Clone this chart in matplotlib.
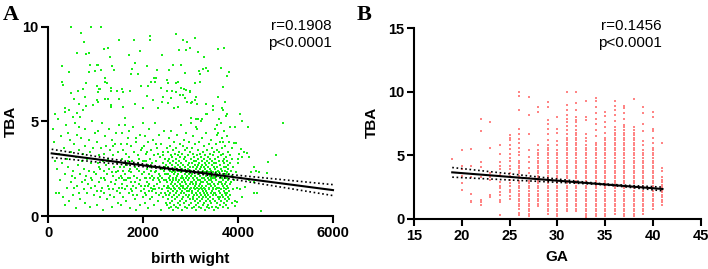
import matplotlib
matplotlib.use('Agg')
import matplotlib.pyplot as plt
import numpy as np

plt.rcParams['font.family'] = ['Liberation Sans', 'DejaVu Sans']

# ---------------- Panel A data: birth weight vs TBA ----------------
# sparse upper points (x, y)
pts_upper = [(481,10.0),(903,10.0),(1100,10.0),(692,9.65),(742,9.17),(2140,9.5),(2140,9.3),(1480,9.3),(1796,9.3),(2688,9.6),(2843,9.3),(2927,9.2),
 (607,8.6),(784,8.55),(848,8.63),(1164,8.8),(1255,8.9),(1297,8.4),(1691,8.5),(1923,8.7),(2400,8.5),(2746,8.77),(2906,8.77),(2990,8.9),
 (291,7.9),(432,7.6),(868,7.98),(1023,7.98),(1044,7.98),(860,7.6),(974,7.66),(1100,7.71),(1198,7.27),(1345,7.9),(1374,7.7),(1767,7.75),(1830,8.1),(1746,7.5),(1887,7.5),(2083,7.9),(2281,7.7),(2224,7.27),(2167,7.1),(2534,7.7),(2632,7.98),(2788,8.0),(2878,7.57),
 (285,7.1),(306,6.9),(468,6.5),(622,6.6),(727,6.7),(784,7.0),(1023,6.88),(1058,6.7),(1092,6.7),(1044,6.57),(1198,7.1),(1227,7.0),(1318,6.78),(1325,6.6),(1444,6.6),(1556,6.7),(1577,6.57),(1712,6.6),(1957,6.88),(2098,6.88),(2240,7.1),(2267,7.28),(2499,6.6),(2379,6.78),(2505,7.2),(2520,7.0),(2695,7.0),(2731,7.06),(2604,6.6),(2695,6.57),(2800,6.78),(2857,6.7),(2906,6.65),(2990,6.57),
 (544,6.18),(637,5.9),(764,6.27),(797,5.83),(938,5.86),(1023,6.13),(1044,6.0),(1198,6.18),(1255,6.18),(1311,5.86),(1325,5.74),(1480,6.18),(1571,5.74),(1830,5.9),(1993,5.69),(2083,6.34),(2203,6.13),(2309,5.69),(2393,6.04),(2414,6.27),(2520,5.95),(2590,6.22),(2646,5.69),(2731,5.77),(2766,6.39),(2836,6.39),(2872,6.22),(2927,6.04),(3011,5.95),
 (130,5.39),(342,5.69),(342,5.51),(432,5.6),(516,5.25),(607,5.42),(658,5.25),(727,5.6),
 (3093,9.39),(3146,8.68),(3286,8.38),(3568,8.8),(3708,8.9),(3174,7.68),(3251,7.75),(3315,7.8),(3370,7.68),(3638,7.8),(3807,7.6),(3772,7.4),
 (3195,7.5),(3083,7.0),(3195,7.1),(3687,6.8),(2984,6.62),(3110,6.27),(3089,6.13),(3020,6.0),(3125,5.9),(3315,5.9),(3568,6.3),
 (3476,5.8),(3476,5.6),(3652,5.69),(3687,5.6),(3722,6.0),(3758,5.39),(3326,5.39),(3350,5.39),(3110,5.1),(3160,5.1),(3230,5.1)]

# right tail (x > 3900)
pts_right = [(4939,4.9),(4798,3.22),(4636,2.87),(4615,2.29),(4481,0.28),(4192,3.31),(4234,3.1),(4055,3.52),(3911,3.87),(3953,3.84),
 (4023,3.3),(4074,3.1),(3990,3.0),(4122,3.4),(4270,2.3),(4339,2.6),(4375,2.4),(4445,2.3),(4220,1.9),(4339,1.8),
 (4330,1.2),(4400,1.2),(4150,1.55),(4040,1.4),(4074,1.0),(3940,0.55),(3975,0.72),(4090,5.0),(3940,4.7),(4215,4.7),(4040,5.4)]

# lower region, x < 2500
pts_low = [(90,4.6),(120,3.9),(150,1.2),(180,2.5),(210,5.1),(230,3.3),(250,1.9),(270,4.2),(290,2.8),(310,1.0),(320,3.6),(340,2.2),(360,4.8),(380,1.5),(400,3.0),(420,2.6),(440,0.8),(450,4.0),(470,1.8),(480,3.4),(490,2.1),(230,1.2),(130,2.9),(350,0.6),(410,4.4),
 (510,2.4),(520,1.1),(530,3.8),(550,4.9),(560,2.0),(570,0.4),(580,3.1),(600,1.6),(610,4.3),(620,2.7),(640,1.2),(650,3.5),(660,2.2),(670,0.9),(690,4.1),(700,1.8),(710,2.9),(720,3.3),(740,1.4),(750,2.5),(760,4.6),(770,0.7),(780,3.7),(800,2.1),(810,1.2),(820,3.0),(840,1.7),(850,4.0),(860,2.4),(870,0.5),(880,3.4),(890,1.5),(900,2.8),(910,5.0),(920,1.9),(940,3.6),(950,1.1),(960,2.3),(980,4.4),(990,1.6),(530,1.5),(760,1.9),(890,2.0),(650,4.7),
 (1005,2.2),(1015,3.9),(1020,1.3),(1030,0.6),(1040,2.8),(1050,4.5),(1060,1.8),(1070,3.2),(1080,2.5),(1090,1.0),(1100,3.6),(1110,2.0),(1120,4.9),(1130,1.5),(1140,2.9),(1150,0.3),(1160,3.3),(1170,2.4),(1180,1.2),(1190,4.2),(1200,1.9),(1210,2.7),(1220,3.7),(1230,0.9),(1240,2.2),(1250,1.6),(1260,3.0),(1270,4.6),(1280,2.5),(1290,1.1),(1300,3.5),(1310,1.8),(1320,2.9),(1330,0.5),(1340,4.0),(1350,2.1),(1360,1.4),(1370,3.2),(1380,2.6),(1390,1.0),(1400,3.8),(1410,1.7),(1420,2.3),(1430,4.4),(1440,1.3),(1450,2.8),(1460,0.7),(1470,3.4),(1480,2.0),(1490,1.5),(1060,2.6),(1180,2.0),(1270,1.4),(1350,3.7),(1420,1.9),(1110,1.3),(1230,2.9),(1330,2.3),(1460,2.4),(1495,4.8),
 (1505,2.6),(1510,1.2),(1520,3.8),(1525,0.6),(1530,2.1),(1540,4.4),(1550,1.7),(1560,3.0),(1565,2.4),(1570,1.0),(1580,3.5),(1590,1.9),(1600,2.8),(1605,5.2),(1610,1.4),(1620,2.2),(1630,3.3),(1640,0.8),(1650,2.7),(1660,1.6),(1670,4.1),(1680,2.0),(1690,1.2),(1700,3.1),(1710,2.5),(1720,0.4),(1730,1.8),(1740,3.7),(1750,2.3),(1760,1.3),(1770,2.9),(1780,4.7),(1790,1.6),(1800,2.1),(1810,3.4),(1820,0.9),(1830,2.6),(1840,1.5),(1850,3.9),(1860,2.0),(1870,1.1),(1880,2.8),(1890,3.2),(1900,1.7),(1910,2.4),(1920,0.6),(1930,4.3),(1940,1.9),(1950,2.7),(1960,1.3),(1970,3.6),(1980,2.2),(1990,1.0),(1545,1.5),(1585,2.6),(1635,1.9),(1675,2.9),(1725,2.0),(1775,1.1),(1815,1.8),(1865,2.5),(1915,3.0),(1955,1.6),(1995,2.9),(1615,4.8),(1705,4.5),(1835,4.1),(1985,4.9),(1560,2.0),(1655,3.8),(1745,1.4),(1855,0.3),(1945,3.5),(1690,2.4),
 (2005,2.3),(2010,1.4),(2020,3.7),(2025,0.7),(2030,2.0),(2040,4.2),(2045,1.6),(2050,2.9),(2060,1.1),(2065,3.3),(2070,2.5),(2080,1.8),(2090,0.4),(2095,2.7),(2100,3.9),(2110,1.3),(2120,2.2),(2125,4.6),(2130,1.7),(2140,3.0),(2150,0.9),(2155,2.4),(2160,1.5),(2170,3.5),(2180,2.1),(2185,1.0),(2190,2.8),(2200,4.0),(2210,1.9),(2215,0.6),(2220,2.6),(2230,3.2),(2240,1.4),(2250,2.3),(2255,4.9),(2260,1.2),(2270,2.9),(2280,1.7),(2290,3.6),(2300,0.8),(2305,2.0),(2310,2.6),(2320,1.5),(2330,4.3),(2335,2.2),(2340,1.1),(2350,3.1),(2360,1.8),(2370,2.5),(2375,0.3),(2380,3.8),(2390,1.4),(2400,2.0),(2410,2.8),(2415,1.0),(2420,3.4),(2430,1.6),(2440,2.4),(2445,4.5),(2450,1.2),(2460,3.0),(2470,1.9),(2475,0.7),(2480,2.7),(2490,3.6),(2495,1.5),(2015,2.9),(2055,2.0),(2105,1.6),(2145,2.0),(2195,1.4),(2235,2.0),(2275,2.4),(2315,3.3),(2355,2.1),(2395,2.5),(2435,1.9),(2465,2.2),(2485,1.1),(2035,1.2),(2085,3.4),(2135,2.6),(2175,1.3),(2225,1.6),(2265,3.8),(2325,1.9),(2365,1.2),(2405,3.2),(2455,2.6),(2498,2.2)]

# dense cluster 2500-3000
bw_2500 = [2503,2506,2510,2512,2516,2519,2522,2526,2529,2532, 2536,2539,2542,2545,2549,2552,2556,2559,2562,2566,
 2569,2572,2576,2579,2582,2586,2589,2592,2596,2599, 2603,2606,2609,2613,2616,2619,2623,2626,2629,2633,
 2636,2639,2643,2646,2649,2653,2656,2659,2663,2666, 2669,2673,2676,2679,2683,2686,2689,2693,2696,2699,
 2703,2706,2709,2713,2716,2719,2723,2726,2729,2733, 2736,2739,2743,2746,2749,2753,2756,2759,2763,2766,
 2769,2773,2776,2779,2783,2786,2789,2793,2796,2799, 2803,2806,2809,2813,2816,2819,2823,2826,2829,2833,
 2836,2839,2843,2846,2849,2853,2856,2859,2863,2866, 2869,2873,2876,2879,2883,2886,2889,2893,2896,2899,
 2903,2906,2909,2913,2916,2919,2923,2926,2929,2933, 2936,2939,2943,2946,2949,2953,2956,2959,2963,2966,
 2969,2973,2976,2979,2983,2986,2989,2993,2996,2999]
tba_2500 = [1.8,0.6,2.9,1.3,2.2,3.4,0.9,1.6,2.6,4.1, 1.1,2.0,0.4,3.0,1.5,2.4,1.9,3.7,0.7,2.8,
 1.2,2.1,1.7,3.2,0.5,2.5,1.4,4.5,2.3,1.0, 3.1,1.8,0.8,2.7,1.6,3.5,2.0,1.3,0.3,2.9,
 1.9,2.4,3.9,1.1,2.2,0.6,1.5,3.3,2.6,1.7, 2.3,0.9,1.4,3.6,2.0,1.2,2.8,0.5,1.9,3.0,
 1.6,2.5,4.3,1.0,2.1,1.3,3.2,0.7,2.7,1.8, 0.4,2.2,1.5,3.4,2.9,1.1,1.9,2.4,0.8,3.8,
 1.4,2.6,1.7,0.6,3.1,2.0,1.2,4.8,2.3,1.6, 2.8,0.9,1.8,3.3,1.3,2.5,0.3,2.1,3.7,1.5,
 2.0,1.0,2.7,1.6,4.0,2.4,0.7,1.9,3.0,1.2, 2.2,3.5,1.4,0.5,2.6,1.8,3.1,1.1,2.0,4.4,
 1.7,2.9,0.8,1.3,2.3,3.6,1.5,2.1,0.4,2.7, 1.9,1.0,3.2,2.5,1.6,0.6,2.2,3.9,1.3,2.8,
 1.1,2.0,1.7,3.4,0.9,2.6,1.4,2.3,5.2,1.8]

# dense cluster 3000-3500
bw_3000 = [3002,3005,3008,3011,3014,3017,3020,3023,3026,3029, 3032,3035,3038,3041,3044,3047,3050,3053,3056,3059,
 3062,3065,3068,3071,3074,3077,3080,3083,3086,3089, 3092,3095,3098,3101,3104,3107,3110,3113,3116,3119,
 3122,3125,3128,3131,3134,3137,3140,3143,3146,3149, 3152,3155,3158,3161,3164,3167,3170,3173,3176,3179,
 3182,3185,3188,3191,3194,3197,3200,3203,3206,3209, 3212,3215,3218,3221,3224,3227,3230,3233,3236,3239,
 3242,3245,3248,3251,3254,3257,3260,3263,3266,3269, 3272,3275,3278,3281,3284,3287,3290,3293,3296,3299,
 3302,3305,3308,3311,3314,3317,3320,3323,3326,3329, 3332,3335,3338,3341,3344,3347,3350,3353,3356,3359,
 3362,3365,3368,3371,3374,3377,3380,3383,3386,3389, 3392,3395,3398,3401,3404,3407,3410,3413,3416,3419,
 3422,3425,3428,3431,3434,3437,3440,3443,3446,3449, 3452,3455,3458,3461,3464,3467,3470,3473,3476,3479,
 3482,3485,3488,3491,3494,3497,3500,3006,3107,3213]
tba_3000 = [2.1,0.7,1.5,3.0,2.4,1.2,0.4,2.8,1.8,3.6, 1.3,2.2,0.9,1.7,3.3,2.6,1.0,2.0,4.2,1.5,
 2.9,0.5,1.9,2.4,1.1,3.1,1.6,2.7,0.8,2.1, 1.4,3.8,2.3,0.6,1.8,2.9,1.2,2.5,0.3,1.7,
 3.2,2.0,1.1,2.6,4.6,1.5,0.9,2.2,3.5,1.3, 2.7,1.9,0.7,3.0,1.6,2.3,1.0,2.8,1.4,3.9,
 0.5,2.1,1.7,2.5,1.2,3.3,0.8,1.9,2.6,1.5, 2.3,0.4,3.1,1.8,1.1,2.7,4.1,1.4,2.0,0.9,
 2.9,1.6,2.2,0.6,3.4,1.3,2.4,1.0,1.8,3.0, 1.2,2.6,0.7,2.0,3.7,1.5,2.8,1.1,2.3,0.3,
 1.9,3.2,1.4,2.5,0.8,2.1,1.6,4.4,1.0,2.7, 1.3,2.2,3.5,0.5,1.8,2.9,1.2,2.4,0.9,3.1,
 1.7,2.0,1.1,2.6,0.6,3.8,1.5,2.3,1.9,0.4, 2.8,1.4,2.1,3.3,1.0,1.7,2.5,0.8,3.0,1.2,
 2.0,4.0,1.6,2.4,0.7,1.9,2.9,1.3,2.2,3.6, 0.5,1.8,2.7,1.1,3.2,1.5,2.3,0.9,2.0,1.4,
 2.6,0.3,3.4,1.7,2.1,1.2,2.8,4.9,4.7,5.0]

# dense cluster 3500-4000
bw_3500 = [3503,3506,3510,3513,3516,3520,3523,3526,3530,3533, 3536,3540,3543,3546,3550,3553,3556,3560,3563,3566,
 3570,3573,3576,3580,3583,3586,3590,3593,3596,3600, 3603,3606,3610,3613,3616,3620,3623,3626,3630,3633,
 3636,3640,3643,3646,3650,3653,3656,3660,3663,3666, 3670,3673,3676,3680,3683,3686,3690,3693,3696,3700,
 3703,3706,3710,3713,3716,3720,3723,3726,3730,3733, 3736,3740,3743,3746,3750,3753,3756,3760,3763,3766,
 3770,3773,3776,3780,3783,3786,3790,3793,3796,3800, 3805,3810,3815,3820,3825,3830,3835,3840,3850,3860,
 3870,3880,3890,3900,3915,3930,3950,3970,3990,3560, 3520,3580,3640,3700,3760,3820,3880,3600,3740,3680]
tba_3500 = [1.6,2.5,0.8,3.0,1.2,2.0,3.8,1.4,2.3,0.5, 1.9,2.8,1.1,3.5,0.7,2.2,1.5,2.6,4.3,1.0,
 2.1,1.7,3.1,0.4,2.4,1.3,2.9,1.8,0.9,3.4, 1.5,2.3,1.0,3.9,2.0,1.2,2.7,0.6,1.8,3.2,
 2.5,1.4,0.8,2.1,3.6,1.7,2.4,1.1,4.1,2.0, 0.5,2.9,1.6,2.2,1.0,3.3,1.9,2.6,0.7,1.3,
 2.8,1.5,3.0,2.0,0.9,2.4,1.2,3.7,1.7,2.2, 1.1,2.6,0.6,1.8,3.1,1.4,2.3,0.8,2.9,1.6,
 2.0,1.2,3.4,0.4,2.5,1.9,1.0,2.7,1.5,3.9, 1.3,2.2,0.9,2.8,1.7,3.2,1.1,2.4,1.8,0.7,
 2.1,3.0,1.4,2.6,1.9,0.8,2.3,1.5,2.8,4.8, 4.6,4.4,4.9,4.5,4.2,4.7,3.6,5.1,5.3,3.9]

# regression
fitA_slope, fitA_icpt = -3.27e-4, 3.33
fitA_xrange = (67, 6000)
fitA_center, fitA_c0, fitA_c1 = 2600, 0.0025, 7.0e-9

# ---------------- Panel B data: GA vs TBA ----------------
ga_weeks = [19, 20, 21, 22, 23, 24, 25, 26, 27, 28, 29, 30, 31, 32, 33, 34, 35, 36, 37, 38, 39, 40, 41]
tba_ga19 = [4.7]
tba_ga20 = [5.4, 4.2, 3.9, 3.4, 2.8, 2.3]
tba_ga21 = [5.5, 4.2, 3.3, 2.0, 1.4, 1.3]
tba_ga22 = [7.9, 6.9, 4.5, 4.1, 3.3, 1.5, 1.3, 1.1]
tba_ga23 = [7.6, 5.6, 3.6, 3.3, 3.1, 1.9, 1.8, 1.7]
tba_ga24 = [5.8, 5.1, 4.5, 4.2, 3.9, 3.5, 2.9, 2.6, 2.4, 2.1, 1.9, 1.5, 1.3, 0.3]
tba_ga25 = [6.6, 6.4, 6.2, 5.8, 5.5, 5.1, 4.8, 4.6, 4.2, 3.9, 3.6, 3.4, 3.1, 2.8, 2.6, 2.3, 2.1, 1.8, 1.6]
tba_ga26 = [10.0, 9.7, 8.6, 7.1, 6.7, 6.3, 6.0, 5.6, 5.3, 5.0, 4.6, 4.4, 4.2, 4.0, 3.8, 3.6, 3.4, 3.2, 3.0, 2.8, 2.6, 2.4, 2.2, 2.0, 1.8, 1.6, 1.4, 1.2, 1.0, 0.8, 0.5, 0.3]
tba_ga27 = [9.6, 8.2, 6.7, 5.4, 4.9, 4.5, 4.0, 3.6, 3.2, 3.0, 2.8, 2.6, 2.4, 2.2, 2.0, 1.8, 1.6, 1.4, 1.2, 1.0, 0.8, 0.6, 0.4, 0.2]
tba_ga28 = [8.8, 8.4, 5.8, 5.4, 5.2, 5.0, 4.8, 4.6, 4.4, 4.2, 4.0, 3.8, 3.6, 3.4, 3.2, 3.0, 2.8, 2.6, 2.4, 2.2, 2.0, 1.8, 1.6, 1.4, 1.2, 1.0]
tba_ga29 = [9.2, 8.8, 7.8, 7.5, 7.1, 6.7, 6.2, 5.8, 5.6, 5.4, 5.2, 5.0, 4.8, 4.6, 4.4, 4.2, 4.0, 3.8, 3.6, 3.4, 3.2, 3.0, 2.8, 2.6, 2.4, 2.2, 2.0, 1.8, 1.6, 1.4, 1.2, 1.0, 0.8, 0.6, 0.4]
tba_ga30 = [8.0, 7.1, 6.8, 6.1, 5.8, 5.4, 5.2, 5.0, 4.8, 4.6, 4.4, 4.2, 4.0, 3.8, 3.6, 3.4, 3.2, 3.0, 2.8, 2.6, 2.4, 2.2, 2.0, 1.8, 1.6, 1.4, 1.2, 1.0, 0.8, 0.6, 0.4, 0.2]
tba_ga31 = [10.0, 9.0, 8.6, 8.2, 7.9, 7.6, 7.3, 7.0, 6.7, 6.4, 6.2, 6.0, 5.8, 5.6, 5.4, 5.2, 5.0, 4.8, 4.6, 4.4, 4.2, 4.0, 3.8, 3.6, 3.4, 3.2, 3.0, 2.8, 2.6, 2.4, 2.2, 2.0, 1.8, 1.6, 1.4, 1.2, 1.0, 0.8, 0.6]
tba_ga32 = [10.0, 9.1, 8.6, 8.0, 7.8, 7.6, 7.3, 7.0, 6.8, 6.6, 6.4, 6.2, 6.0, 5.8, 5.6, 5.4, 5.2, 5.0, 4.8, 4.6, 4.4, 4.2, 4.0, 3.8, 3.6, 3.4, 3.2, 3.0, 2.8, 2.6, 2.4, 2.2, 2.0, 1.8, 1.6, 1.4, 1.2, 1.0, 0.8, 0.6]
tba_ga33 = [9.3, 8.0, 7.8, 6.7, 6.4, 6.1, 5.8, 5.6, 5.4, 5.2, 5.0, 4.8, 4.6, 4.4, 4.2, 4.0, 3.8, 3.6, 3.4, 3.2, 3.0, 2.8, 2.6, 2.4, 2.2, 2.0, 1.8, 1.6, 1.4, 1.2, 1.0, 0.8, 0.6, 0.4, 0.2, 0.05]
tba_ga34 = [9.5, 9.3, 8.8, 8.3, 7.9, 7.5, 7.0, 6.5, 6.0, 5.8, 5.6, 5.4, 5.2, 5.0, 4.8, 4.6, 4.4, 4.2, 4.0, 3.8, 3.6, 3.4, 3.2, 3.0, 2.8, 2.6, 2.4, 2.2, 2.0, 1.8, 1.6, 1.4, 1.2, 1.0, 0.8, 0.6, 0.4, 0.2]
tba_ga35 = [8.4, 8.1, 7.6, 7.2, 6.8, 6.4, 6.2, 6.0, 5.8, 5.6, 5.4, 5.2, 5.0, 4.8, 4.6, 4.4, 4.2, 4.0, 3.8, 3.6, 3.4, 3.2, 3.0, 2.8, 2.6, 2.4, 2.2, 2.0, 1.8, 1.6, 1.4, 1.2, 1.0, 0.8, 0.6, 0.4, 0.2]
tba_ga36 = [9.3, 8.9, 8.6, 8.2, 7.7, 7.2, 7.0, 6.8, 6.6, 6.4, 6.2, 6.0, 5.8, 5.6, 5.4, 5.2, 5.0, 4.8, 4.6, 4.4, 4.2, 4.0, 3.8, 3.6, 3.4, 3.2, 3.0, 2.8, 2.6, 2.4, 2.2, 2.0, 1.8, 1.6, 1.4, 1.2, 1.0, 0.8, 0.6, 0.4]
tba_ga37 = [8.9, 8.7, 8.3, 7.9, 7.4, 7.2, 7.0, 6.8, 6.6, 6.4, 6.2, 6.0, 5.8, 5.6, 5.4, 5.2, 5.0, 4.8, 4.6, 4.4, 4.2, 4.0, 3.8, 3.6, 3.4, 3.2, 3.0, 2.8, 2.6, 2.4, 2.2, 2.0, 1.8, 1.6, 1.4, 1.2, 1.0, 0.8, 0.6, 0.4, 0.2]
tba_ga38 = [9.4, 7.2, 7.0, 6.8, 6.6, 6.4, 6.2, 6.0, 5.8, 5.6, 5.4, 5.2, 5.0, 4.8, 4.6, 4.4, 4.2, 4.0, 3.8, 3.6, 3.4, 3.2, 3.0, 2.8, 2.6, 2.4, 2.2, 2.0, 1.8, 1.6, 1.4, 1.2, 1.0, 0.8, 0.6, 0.4, 0.2]
tba_ga39 = [8.8, 8.3, 7.5, 6.9, 6.1, 5.8, 5.4, 5.2, 5.0, 4.8, 4.6, 4.4, 4.2, 4.0, 3.8, 3.6, 3.4, 3.2, 3.0, 2.8, 2.6, 2.4, 2.2, 2.0, 1.8, 1.6, 1.4, 1.2, 1.0, 0.8, 0.6, 0.4]
tba_ga40 = [8.4, 8.0, 7.1, 6.9, 6.4, 6.0, 5.6, 5.4, 5.2, 5.0, 4.8, 4.6, 4.4, 4.2, 4.0, 3.8, 3.6, 3.4, 3.2, 3.0, 2.8, 2.6, 2.4, 2.2, 2.0, 1.8, 1.6, 1.4, 1.2, 1.0, 0.8]
tba_ga41 = [6.0, 4.0, 3.8, 3.3, 3.1, 2.9, 2.7, 2.5, 2.3, 2.1, 1.9, 1.7, 1.5, 1.3, 1.1]
tba_columns = [tba_ga19, tba_ga20, tba_ga21, tba_ga22, tba_ga23, tba_ga24, tba_ga25, tba_ga26, tba_ga27, tba_ga28,
               tba_ga29, tba_ga30, tba_ga31, tba_ga32, tba_ga33, tba_ga34, tba_ga35, tba_ga36, tba_ga37, tba_ga38,
               tba_ga39, tba_ga40, tba_ga41]

fitB_slope, fitB_icpt19 = -0.0595, 3.67
fitB_xrange = (19, 41)
fitB_center, fitB_c0, fitB_c1 = 35, 0.0016, 0.000555

# ---------------- drawing ----------------
W, H = 708, 269
fig = plt.figure(figsize=(W / 100, H / 100), dpi=100)
axA = fig.add_axes([48.5 / W, 1 - 216 / H, (333 - 48.5) / W, (216 - 26.7) / H])
axB = fig.add_axes([414 / W, 1 - 219 / H, (700.7 - 414) / W, (219 - 28.3) / H])

GREEN = '#19ee19'
RED = '#ff8585'


def style(ax):
    for s in ['top', 'right']:
        ax.spines[s].set_visible(False)
    for s in ['left', 'bottom']:
        ax.spines[s].set_linewidth(1.5)
    ax.tick_params(width=1.5, length=5, labelsize=10.5, pad=2)
    for lab in ax.get_xticklabels() + ax.get_yticklabels():
        lab.set_fontweight('bold')


# Panel A
xa = [p[0] for p in pts_upper + pts_right + pts_low] + bw_2500 + bw_3000 + bw_3500
ya = [p[1] for p in pts_upper + pts_right + pts_low] + tba_2500 + tba_3000 + tba_3500
n = min(len(xa), len(ya))
axA.scatter(xa[:n], ya[:n], s=3.8, marker='s', c=GREEN, linewidths=0, clip_on=False, zorder=2)
axA.set_xlim(0, 6000)
axA.set_ylim(0, 10)
axA.set_xticks([0, 2000, 4000, 6000])
axA.set_yticks([0, 5, 10])
xs = np.linspace(fitA_xrange[0], fitA_xrange[1], 300)
yl = fitA_icpt + fitA_slope * xs
hw = np.sqrt(fitA_c0 + fitA_c1 * (xs - fitA_center) ** 2)
axA.plot(xs, yl, color='k', lw=1.5, zorder=4, clip_on=False)
axA.plot(xs, yl + hw, color='k', lw=1.2, ls=(0, (1, 1.6)), zorder=4, clip_on=False)
axA.plot(xs, yl - hw, color='k', lw=1.2, ls=(0, (1, 1.6)), zorder=4, clip_on=False)
style(axA)

# Panel B
xb, yb = [], []
for g, col in zip(ga_weeks, tba_columns):
    xb += [g] * len(col)
    yb += col
axB.scatter(xb, yb, s=3.0, marker='s', c=RED, linewidths=0, clip_on=False, zorder=2)
axB.set_xlim(15, 45)
axB.set_ylim(0, 15)
axB.set_xticks([15, 20, 25, 30, 35, 40, 45])
axB.set_yticks([0, 5, 10, 15])
xs = np.linspace(fitB_xrange[0], fitB_xrange[1], 300)
yl = fitB_icpt19 + fitB_slope * (xs - 19)
hw = np.sqrt(fitB_c0 + fitB_c1 * (xs - fitB_center) ** 2)
axB.plot(xs, yl, color='k', lw=1.5, zorder=4)
axB.plot(xs, yl + hw, color='k', lw=1.2, ls=(0, (1, 1.6)), zorder=4)
axB.plot(xs, yl - hw, color='k', lw=1.2, ls=(0, (1, 1.6)), zorder=4)
style(axB)

# Texts (pixel positions converted to figure fraction)
def ftext(x, y, s, **kw):
    fig.text(x / W, 1 - y / H, s, **kw)

ftext(331.7, 30, 'r=0.1908', ha='right', va='baseline', fontsize=11)
ftext(331.7, 46.7, 'p<0.0001', ha='right', va='baseline', fontsize=11)
ftext(661.7, 30, 'r=0.1456', ha='right', va='baseline', fontsize=11)
ftext(661.7, 46.7, 'p<0.0001', ha='right', va='baseline', fontsize=11)

ftext(190.5, 262.5, 'birth wight', ha='center', va='baseline', fontsize=11, fontweight='bold')
ftext(10.5, 121, 'TBA', ha='center', va='center', rotation=90, fontsize=11, fontweight='bold')
ftext(557, 260.7, 'GA', ha='center', va='baseline', fontsize=11, fontweight='bold')
ftext(372, 122, 'TBA', ha='center', va='center', rotation=90, fontsize=11, fontweight='bold')

ftext(3, 20, 'A', ha='left', va='baseline', fontsize=16, fontweight='bold', family=['Liberation Serif', 'DejaVu Serif'])
ftext(357, 19.5, 'B', ha='left', va='baseline', fontsize=16, fontweight='bold', family=['Liberation Serif', 'DejaVu Serif'])

fig.savefig('out.png', dpi=100)
